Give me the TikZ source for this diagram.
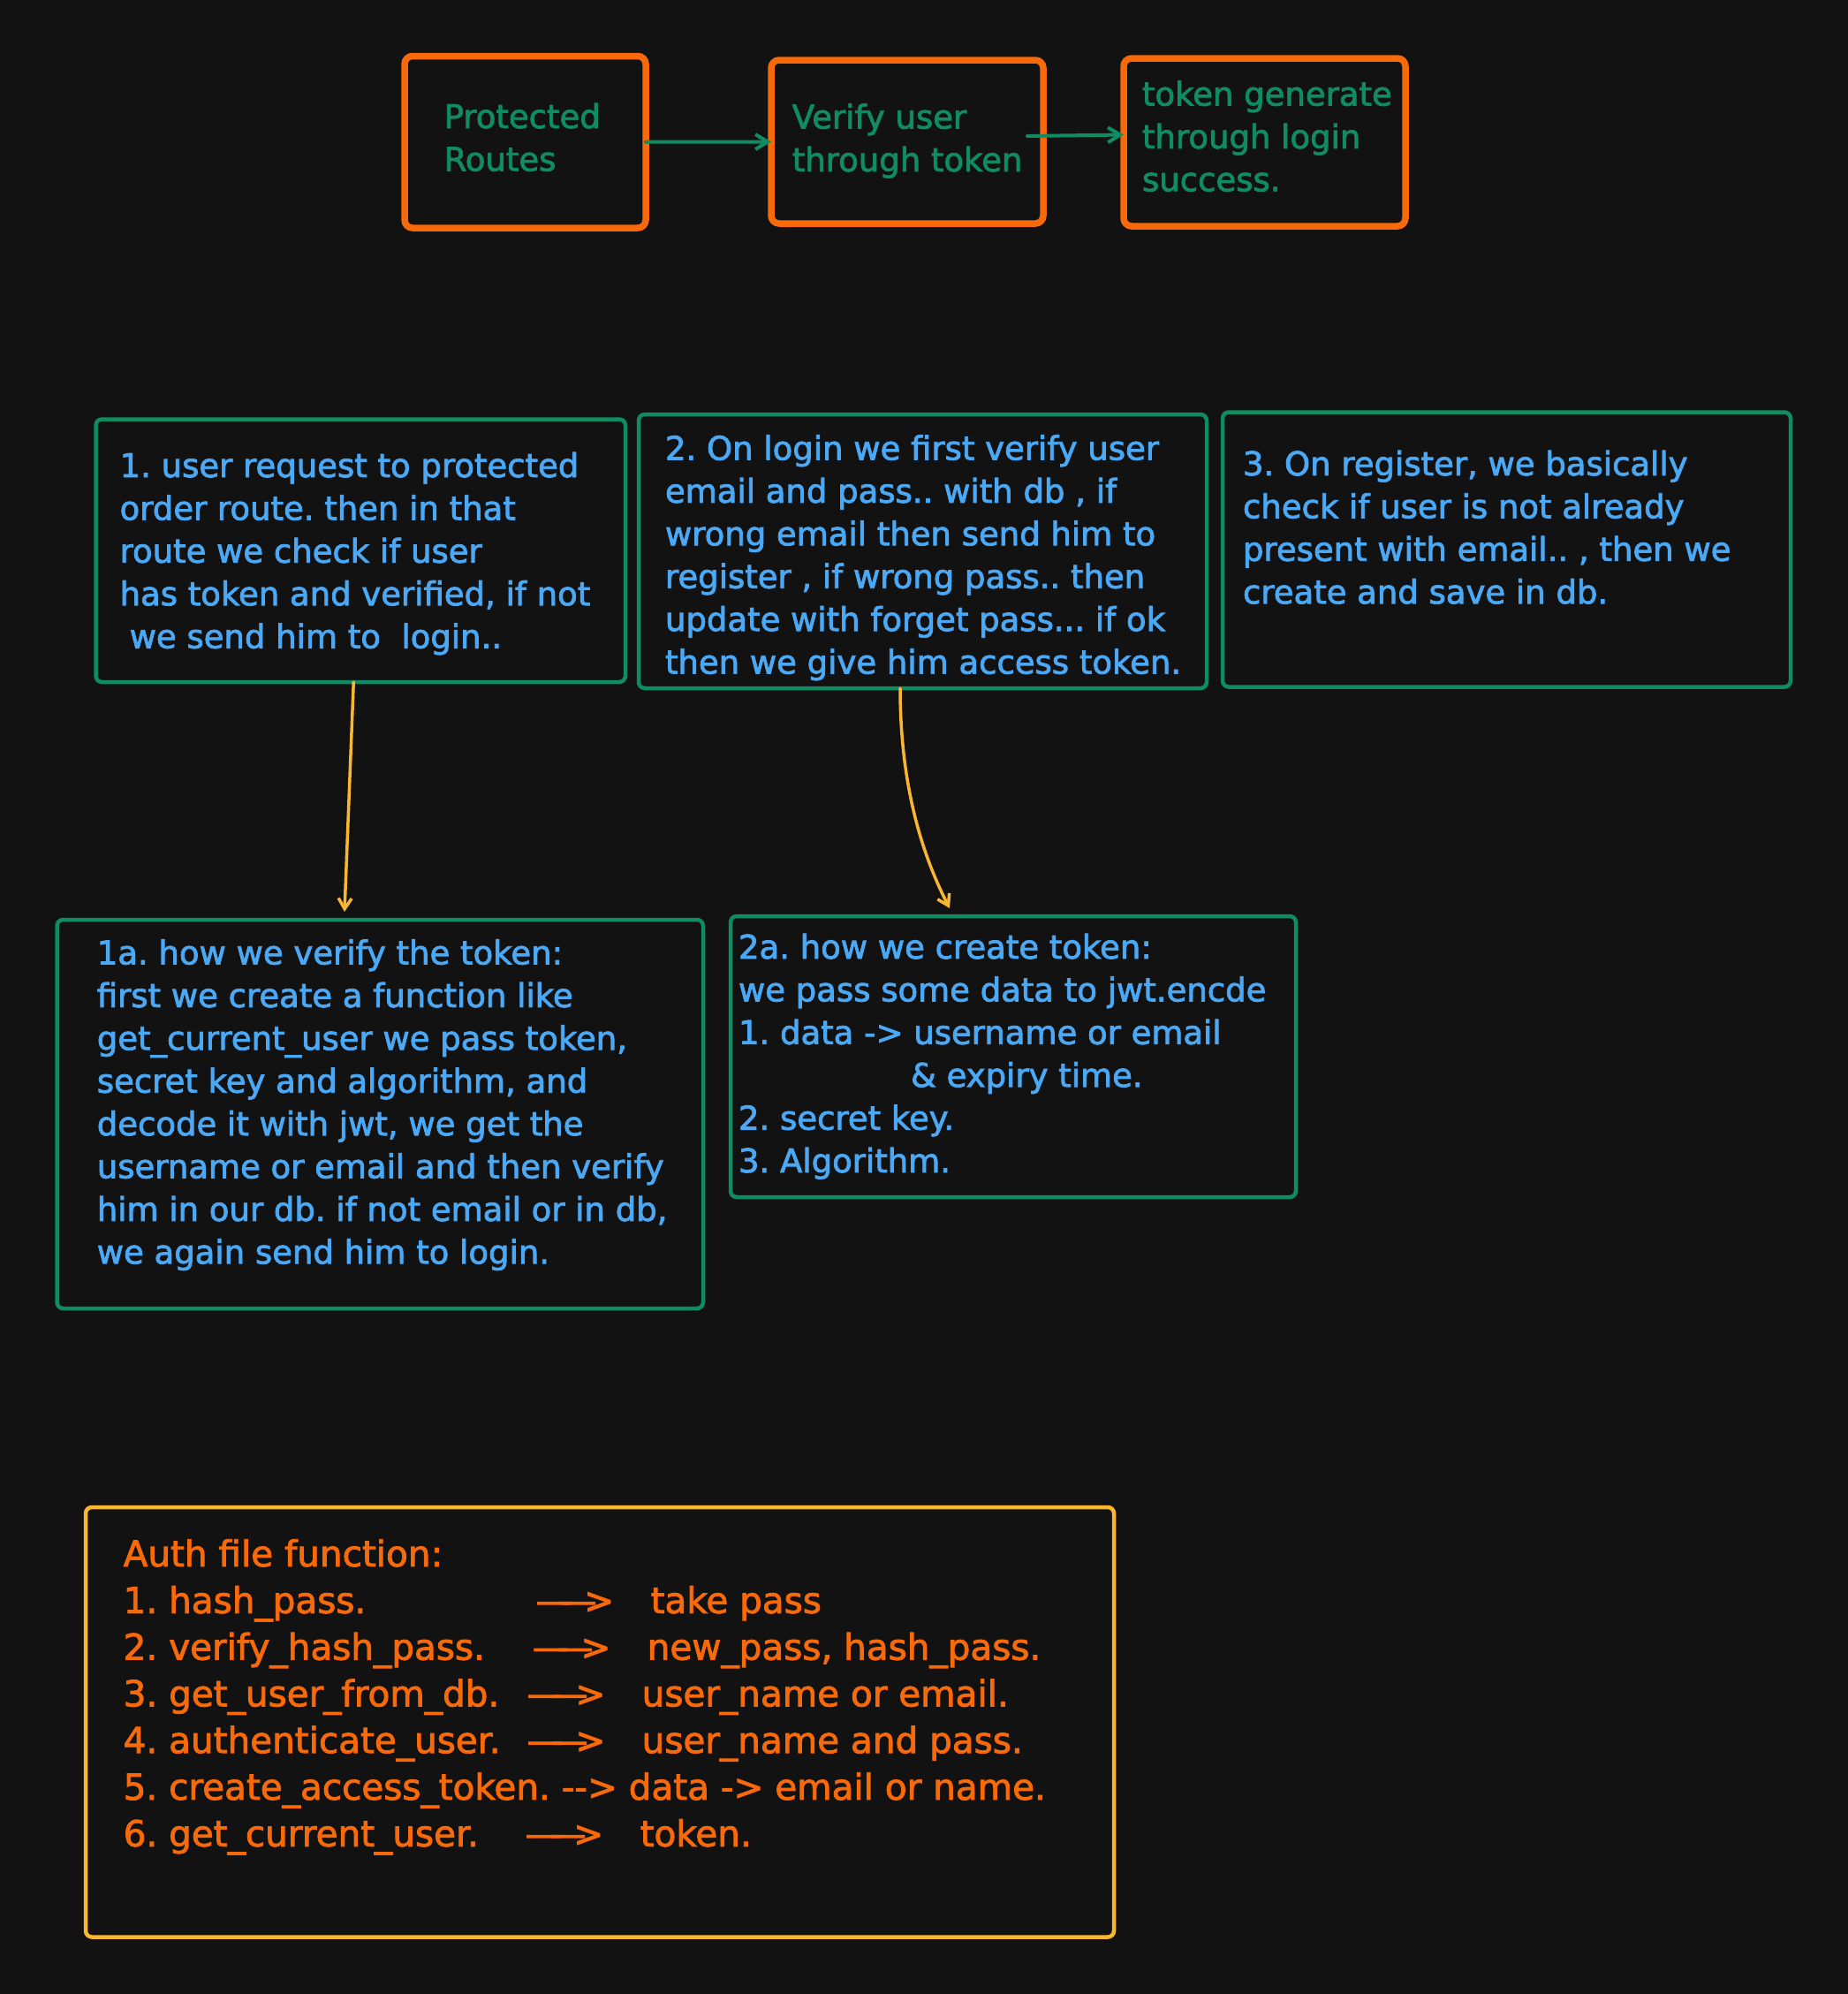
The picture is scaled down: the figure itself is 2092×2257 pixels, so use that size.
\documentclass[tikz,border=0pt]{standalone}
\usepackage{fontspec}
\setmainfont[FakeBold=2.2]{DejaVu Sans}
\usetikzlibrary{arrows.meta}

\definecolor{bgc}{HTML}{121212}
\definecolor{org}{HTML}{F8690A}
\definecolor{grn}{HTML}{0F8C62}
\definecolor{blu}{HTML}{4AA8F5}
\definecolor{yel}{HTML}{F9B731}

% long arrow used in the function list
\newcommand\fnarrow{—\kern-.3em—\kern-.35em>}
\frenchspacing

\begin{document}
\begin{tikzpicture}[x=1pt,y=-1pt,
  box/.style={draw, rounded corners=9pt, inner sep=0pt, outer sep=0pt, anchor=north west},
  topbox/.style={box, draw=org, line width=7.5pt},
  notebox/.style={box, draw=grn, line width=4.5pt, rounded corners=7pt},
  listbox/.style={box, draw=yel, line width=4.5pt, rounded corners=7pt},
  txt/.style={anchor=base west, inner sep=0pt, outer sep=0pt},
  bodyfont/.style={font=\fontsize{37pt}{48.4pt}\selectfont},
  listfont/.style={font=\fontsize{40.5pt}{52.8pt}\selectfont},
  garrow/.style={draw=grn, line width=4pt, line cap=round, line join=round,
    -{Straight Barb[length=14pt,width=17pt]}},
  yarrow/.style={draw=yel, line width=3.5pt, line cap=round, line join=round,
    -{Straight Barb[length=12pt,width=15pt]}}
]
\useasboundingbox (0,0) rectangle (2092,2257);
\fill[bgc] (0,0) rectangle (2092,2257);

% ---- top row ----
\node[topbox, minimum width=273pt, minimum height=194.5pt] (pr) at (458,63.5) {};
\node[topbox, minimum width=308pt, minimum height=185pt] (vu) at (873,68) {};
\node[topbox, minimum width=319pt, minimum height=190pt] (tg) at (1272,66) {};

\node[txt, bodyfont, text=grn] (prt) at (502.7,145) {\parbox[t]{260pt}{\raggedright
Protected\\
Routes}};
\node[txt, bodyfont, text=grn] (vut) at (896.8,145.5) {\parbox[t]{290pt}{\raggedright
Verify user\\
through token}};
\node[txt, bodyfont, text=grn] (tgt) at (1293,119.5) {\parbox[t]{300pt}{\raggedright
token generate\\
through login\\
success.}};

\draw[garrow] (pr.east) -- (vu.west);
\coordinate (vs) at (1163,154);
\draw[garrow] (vs) -- ([yshift=8.5pt]tg.west);

% ---- steps ----
\node[notebox, minimum width=599.5pt, minimum height=297.5pt] (s1) at (108.5,474.5) {};
\node[notebox, minimum width=643pt, minimum height=310pt] (s2) at (723,469) {};
\node[notebox, minimum width=643pt, minimum height=311pt] (s3) at (1384,466.5) {};

\node[txt, bodyfont, text=blu] (s1t) at (135.6,540) {\parbox[t]{580pt}{\raggedright
1. user request to protected\\
order route. then in that\\
route we check if user\\
has token and verified, if not\\
\hspace*{0.3em}we send him to\ \ login..}};

\node[txt, bodyfont, text=blu] (s2t) at (753,520.5) {\parbox[t]{620pt}{\raggedright
2. On login we first verify user\\
email and pass.. with db , if\\
wrong email then send him to\\
register , if wrong pass.. then\\
update with forget pass... if ok\\
then we give him access token.}};

\node[txt, bodyfont, text=blu] (s3t) at (1407,538) {\parbox[t]{620pt}{\raggedright
3. On register, we basically\\
check if user is not already\\
present with email.. , then we\\
create and save in db.}};

% ---- details ----
\node[notebox, minimum width=731.5pt, minimum height=440pt] (s1a) at (64.5,1041) {};
\node[notebox, minimum width=640pt, minimum height=318pt] (s2a) at (827,1037) {};

\node[txt, bodyfont, text=blu] (s1at) at (109.8,1091.5) {\parbox[t]{700pt}{\raggedright
1a. how we verify the token:\\
first we create a function like\\
get\_current\_user we pass token,\\
secret key and algorithm, and\\
decode it with jwt, we get the\\
username or email and then verify\\
him in our db. if not email or in db,\\
we again send him to login.}};

\node[txt, bodyfont, text=blu] (s2at) at (836,1085) {\parbox[t]{620pt}{\raggedright
2a. how we create token:\\
we pass some data to jwt.encde\\
1. data -> username or email\\
\hspace*{195pt}\& expiry time.\\
2. secret key.\\
3. Algorithm.}};

\coordinate (t1tip) at (390,1032);
\coordinate (t2tip) at (1075,1028);
\draw[yarrow] ([xshift=-8pt]s1.south) -- (t1tip);
\draw[yarrow] ([xshift=-25.5pt]s2.south) .. controls (1019,880) and (1040,960) .. (t2tip);

% ---- function list ----
\node[listbox, minimum width=1164pt, minimum height=486.5pt] (af) at (97,1706) {};

\node[txt, listfont, text=org] (aft) at (139.7,1773) {\parbox[t]{1100pt}{\raggedright
Auth file function:\\
\makebox[467pt][l]{1. hash\_pass.}\makebox[130pt][l]{\fnarrow}take pass\\
\makebox[463pt][l]{2. verify\_hash\_pass.}\makebox[130pt][l]{\fnarrow}new\_pass, hash\_pass.\\
\makebox[457pt][l]{3. get\_user\_from\_db.}\makebox[130pt][l]{\fnarrow}user\_name or email.\\
\makebox[457pt][l]{4. authenticate\_user.}\makebox[130pt][l]{\fnarrow}user\_name and pass.\\
5. create\_access\_token. -{}-{}> data -> email or name.\\
\makebox[455pt][l]{6. get\_current\_user.}\makebox[130pt][l]{\fnarrow}token.}};

\end{tikzpicture}
\end{document}
